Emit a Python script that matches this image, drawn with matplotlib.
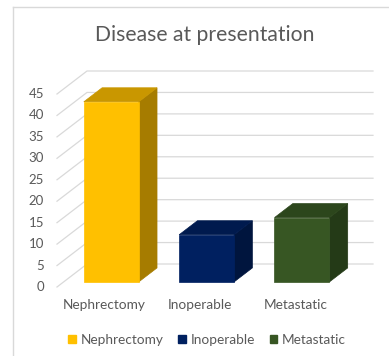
import matplotlib
matplotlib.use("Agg")
import matplotlib.pyplot as plt
from matplotlib.patches import Polygon, Patch
from matplotlib.lines import Line2D

categories = ["Nephrectomy", "Inoperable", "Metastatic"]
values = [42, 11, 15]
y_ticks = list(range(0, 50, 5))
title = "Disease at presentation"

front_colors = ["#FFC000", "#002060", "#375623"]
top_colors = ["#C99700", "#001A4E", "#2C461C"]
side_colors = ["#A67C00", "#00153E", "#243A17"]

FONT = ["Lato", "DejaVu Sans"]
TEXT_COLOR = "#595959"
GRID_COLOR = "#D9D9D9"

W, H = 389, 356
fig = plt.figure(figsize=(W / 100, H / 100), dpi=100)
fig.patch.set_facecolor("white")

# chart frame (top and left edges)
fig.add_artist(Line2D([13 / W, 13 / W], [0, 1 - 7 / H], transform=fig.transFigure,
                      color="#D9D9D9", lw=1))
fig.add_artist(Line2D([13 / W, 1], [1 - 7 / H, 1 - 7 / H], transform=fig.transFigure,
                      color="#D9D9D9", lw=1))

ax = fig.add_axes([57 / W, 69 / H, 286 / W, 193 / H])
ax.set_xlim(-0.5, 2.5)
ax.set_ylim(0, 45)
ax.axis("off")

# oblique depth projection: full depth shifts right and up
px_x = 286 / 3.0
px_y = 193 / 45.0
DX = 30 / px_x
DY = 23 / px_y


def proj(x, y, d):
    return (x + d * DX, y + d * DY)


# gridlines: side wall diagonals + back wall
for v in y_ticks:
    pts = [proj(-0.5, v, 0), proj(-0.5, v, 1), proj(2.5, v, 1)]
    ax.plot([p[0] for p in pts], [p[1] for p in pts], color=GRID_COLOR, lw=0.9,
            clip_on=False, zorder=1)
    ax.annotate(str(v), xy=(-0.5, v), xytext=(-13, 0), textcoords="offset pixels",
                ha="right", va="center", fontsize=9.5, family=FONT, color=TEXT_COLOR)

# 3D bars
hw = 0.288
d0, d1 = 0.22, 0.83
for i, (val, fc, tc, sc) in enumerate(zip(values, front_colors, top_colors, side_colors)):
    side = [proj(i + hw, 0, d0), proj(i + hw, 0, d1), proj(i + hw, val, d1), proj(i + hw, val, d0)]
    top = [proj(i - hw, val, d0), proj(i + hw, val, d0), proj(i + hw, val, d1), proj(i - hw, val, d1)]
    front = [proj(i - hw, 0, d0), proj(i + hw, 0, d0), proj(i + hw, val, d0), proj(i - hw, val, d0)]
    for poly, col in ((side, sc), (top, tc), (front, fc)):
        ax.add_patch(Polygon(poly, closed=True, facecolor=col, edgecolor=col, lw=0.5,
                             clip_on=False, zorder=3))
    ax.annotate(categories[i], xy=(i, 0), xytext=(0, -18), textcoords="offset pixels",
                ha="center", va="center", fontsize=9.8, family=FONT, color=TEXT_COLOR)

fig.text(205 / W, 1 - 35 / H, title, ha="center", va="center", fontsize=15.2,
         family=FONT, color=TEXT_COLOR)

handles = [Patch(facecolor=c, edgecolor=c) for c in front_colors]
leg = fig.legend(handles, categories, loc="center", bbox_to_anchor=(207 / W, 1 - 340 / H),
                 ncol=3, frameon=False, handlelength=0.55, handleheight=0.55,
                 handletextpad=0.35, columnspacing=1.1,
                 prop={"family": FONT, "size": 9.8})
for t in leg.get_texts():
    t.set_color(TEXT_COLOR)

fig.savefig("out.png", dpi=100)
